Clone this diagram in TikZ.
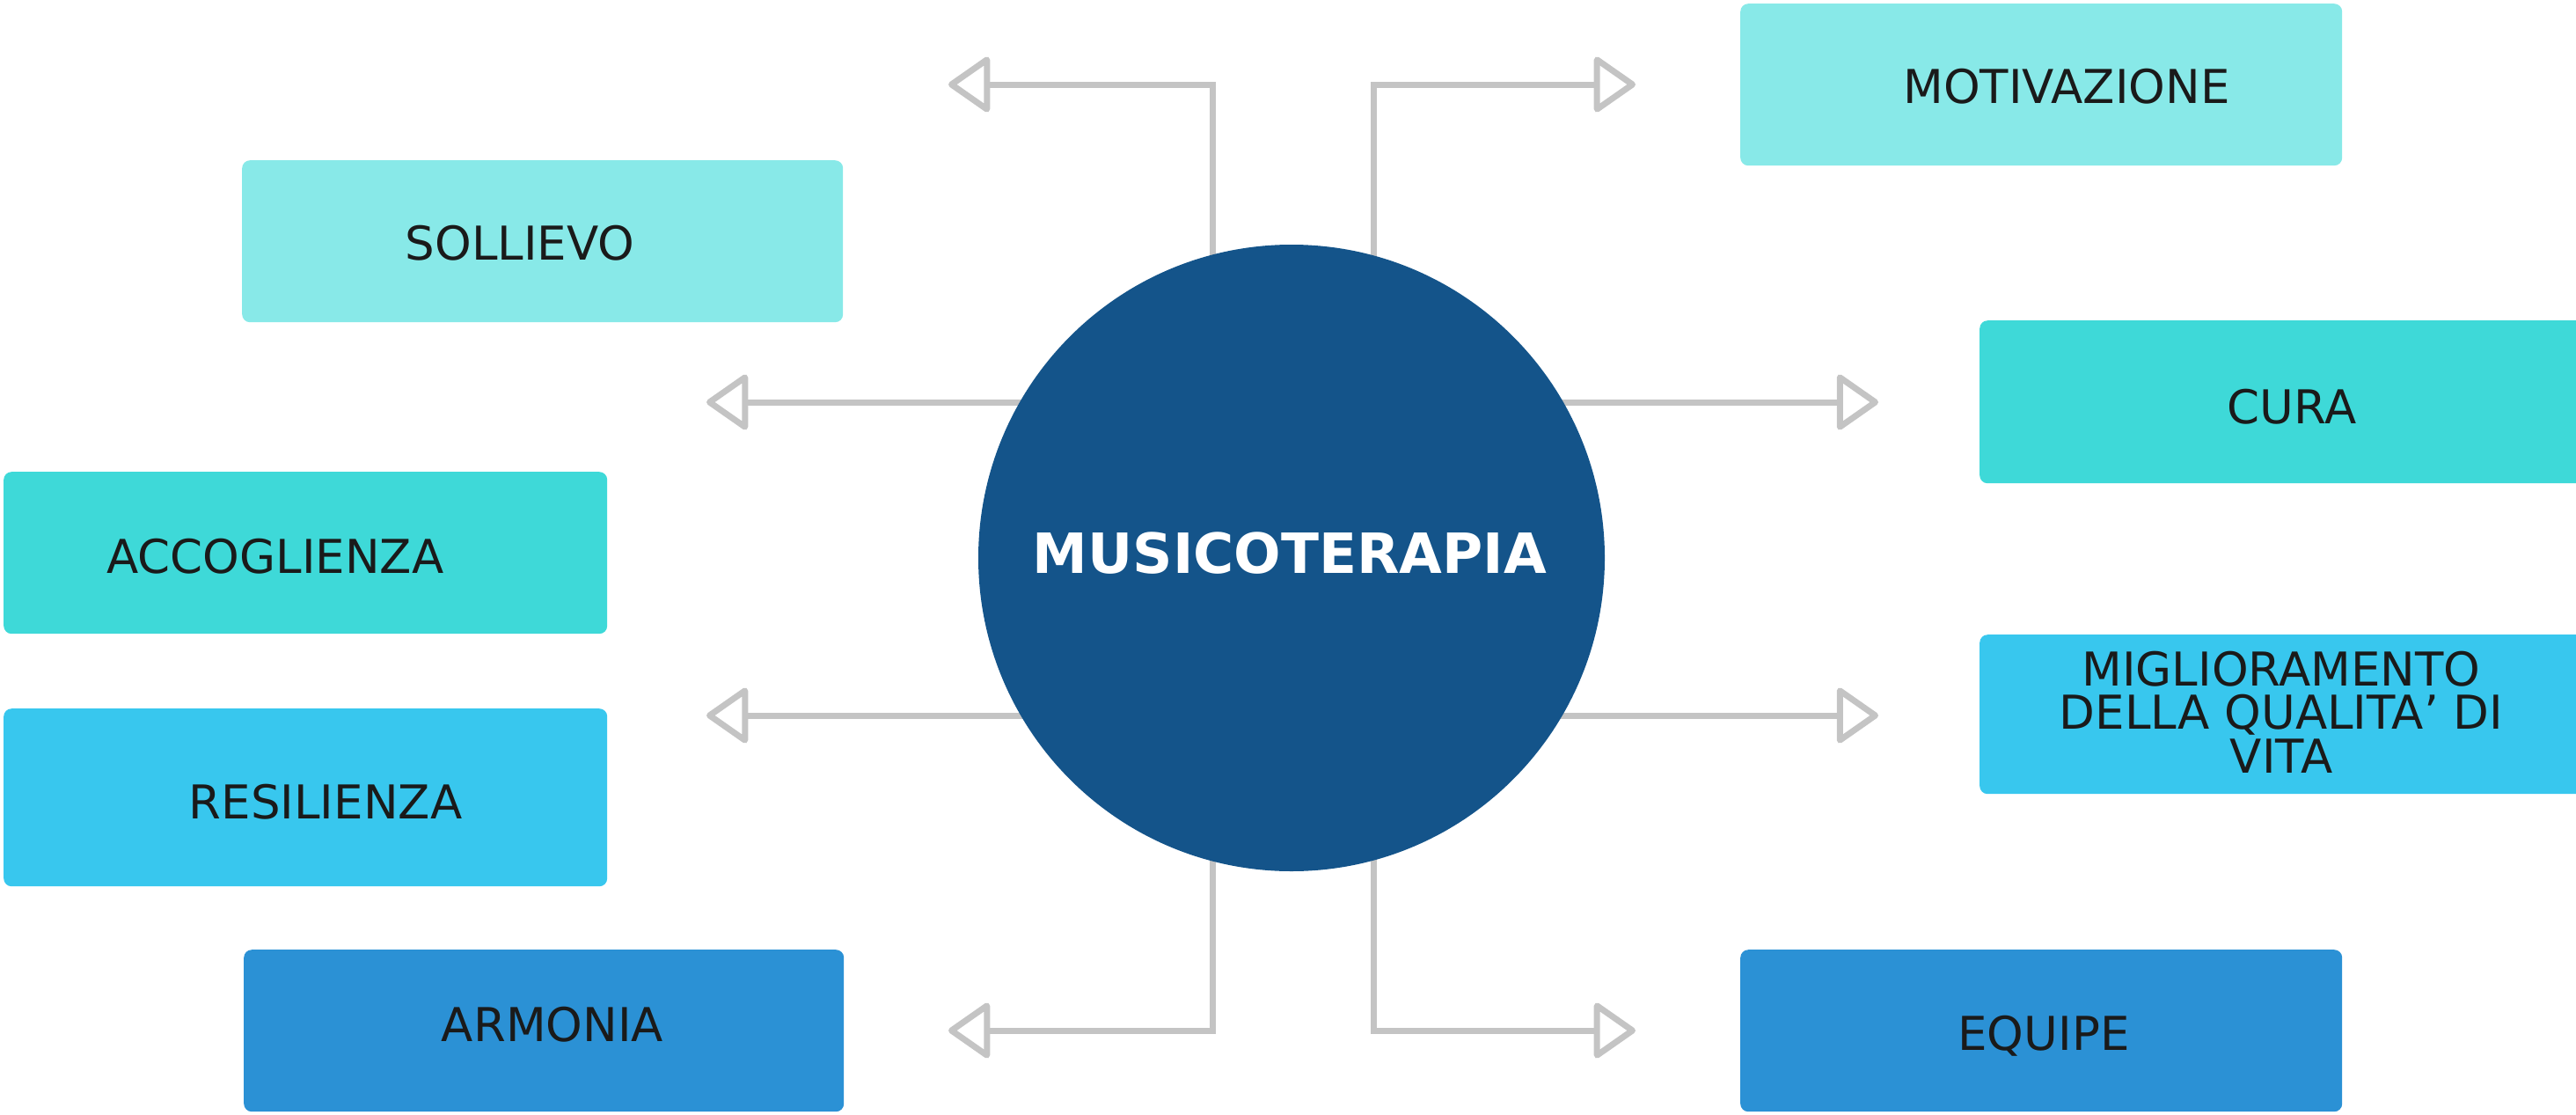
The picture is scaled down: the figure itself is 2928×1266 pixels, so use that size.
\documentclass[tikz,border=0pt]{standalone}
\usepackage{fontspec}
\setmainfont{DejaVu Sans}
\usetikzlibrary{arrows.meta}
\definecolor{cLight}{HTML}{88E9E8}
\definecolor{cTurq}{HTML}{3ED9D8}
\definecolor{cSky}{HTML}{38C7EE}
\definecolor{cBlue}{HTML}{2B91D5}
\definecolor{cCircle}{HTML}{14548A}
\definecolor{cGrey}{HTML}{C4C4C4}
\definecolor{cInk}{HTML}{1A1A1A}
\pgfdeclarelayer{background}
\pgfsetlayers{background,main}
\begin{document}
\begin{tikzpicture}[x=1pt,y=-1pt,
  box/.style={rectangle, rounded corners=9pt, inner sep=0pt, anchor=north west, minimum height=184pt},
  lbl/.style={text=cInk, font=\fontsize{53}{49.5}\selectfont, align=center, inner sep=0pt},
  conn/.style={draw=cGrey, line width=7pt, -{Triangle[open, round, length=50pt, width=68pt]}},
]
\useasboundingbox (0,0) rectangle (2928,1266);
\clip (0,0) rectangle (2928,1266);

% boxes
\node[box, fill=cLight, minimum width=684pt] (bmot) at (1978,4) {};
\node[box, fill=cLight, minimum width=683pt] (bsol) at (275,182) {};
\node[box, fill=cTurq, minimum width=720pt, minimum height=185pt] (bcur) at (2250,364) {};
\node[box, fill=cTurq, minimum width=686pt] (bacc) at (4,536) {};
\node[box, fill=cSky, minimum width=720pt, minimum height=181pt] (bmig) at (2250,721) {};
\node[box, fill=cSky, minimum width=686pt, minimum height=202pt] (bres) at (4,805) {};
\node[box, fill=cBlue, minimum width=682pt] (barm) at (277,1079) {};
\node[box, fill=cBlue, minimum width=684pt] (bequ) at (1978,1079) {};

% labels
\node[lbl, anchor=base] (tmot) at (2349,117) {MOTIVAZIONE};
\node[lbl, anchor=base] (tsol) at (591,295) {SOLLIEVO};
\node[lbl, anchor=base] (tcur) at (2605,481) {CURA};
\node[lbl, anchor=base] (tacc) at (313,651) {ACCOGLIENZA};
\node[lbl] (tmig) at (2593,809) {MIGLIORAMENTO\\DELLA QUALITA’ DI\\VITA};
\node[lbl, anchor=base] (tres) at (370,930) {RESILIENZA};
\node[lbl, anchor=base] (tarm) at (628,1183) {ARMONIA};
\node[lbl, anchor=base] (tequ) at (2323,1193) {EQUIPE};

% central circle
\node[circle, fill=cCircle, inner sep=0pt, minimum size=712pt] (mt) at (1468,634) {};
\node[anchor=base, text=white, inner sep=0pt, font=\bfseries\fontsize{63}{63}\selectfont] (tmt) at (1466,651) {MUSICOTERAPIA};

% connector coordinates
\coordinate (ktl) at (1378,96);
\coordinate (tl) at (1078,96);
\coordinate (ktr) at (1561,96);
\coordinate (tr) at (1859,96);
\coordinate (kbl) at (1378,1171);
\coordinate (bl) at (1078,1171);
\coordinate (kbr) at (1561,1171);
\coordinate (br) at (1859,1171);
\coordinate (ml1) at (803,457);
\coordinate (ml2) at (803,813);
\coordinate (mr1) at (2135,457);
\coordinate (mr2) at (2135,813);

\begin{pgfonlayer}{background}
\draw[conn] (mt.center -| ktl) -- (ktl) -- (tl);
\draw[conn] (mt.center -| ktr) -- (ktr) -- (tr);
\draw[conn] (mt.center -| kbl) -- (kbl) -- (bl);
\draw[conn] (mt.center -| kbr) -- (kbr) -- (br);
\draw[conn] (mt.center |- ml1) -- (ml1);
\draw[conn] (mt.center |- ml2) -- (ml2);
\draw[conn] (mt.center |- mr1) -- (mr1);
\draw[conn] (mt.center |- mr2) -- (mr2);
\end{pgfonlayer}
\end{tikzpicture}
\end{document}
